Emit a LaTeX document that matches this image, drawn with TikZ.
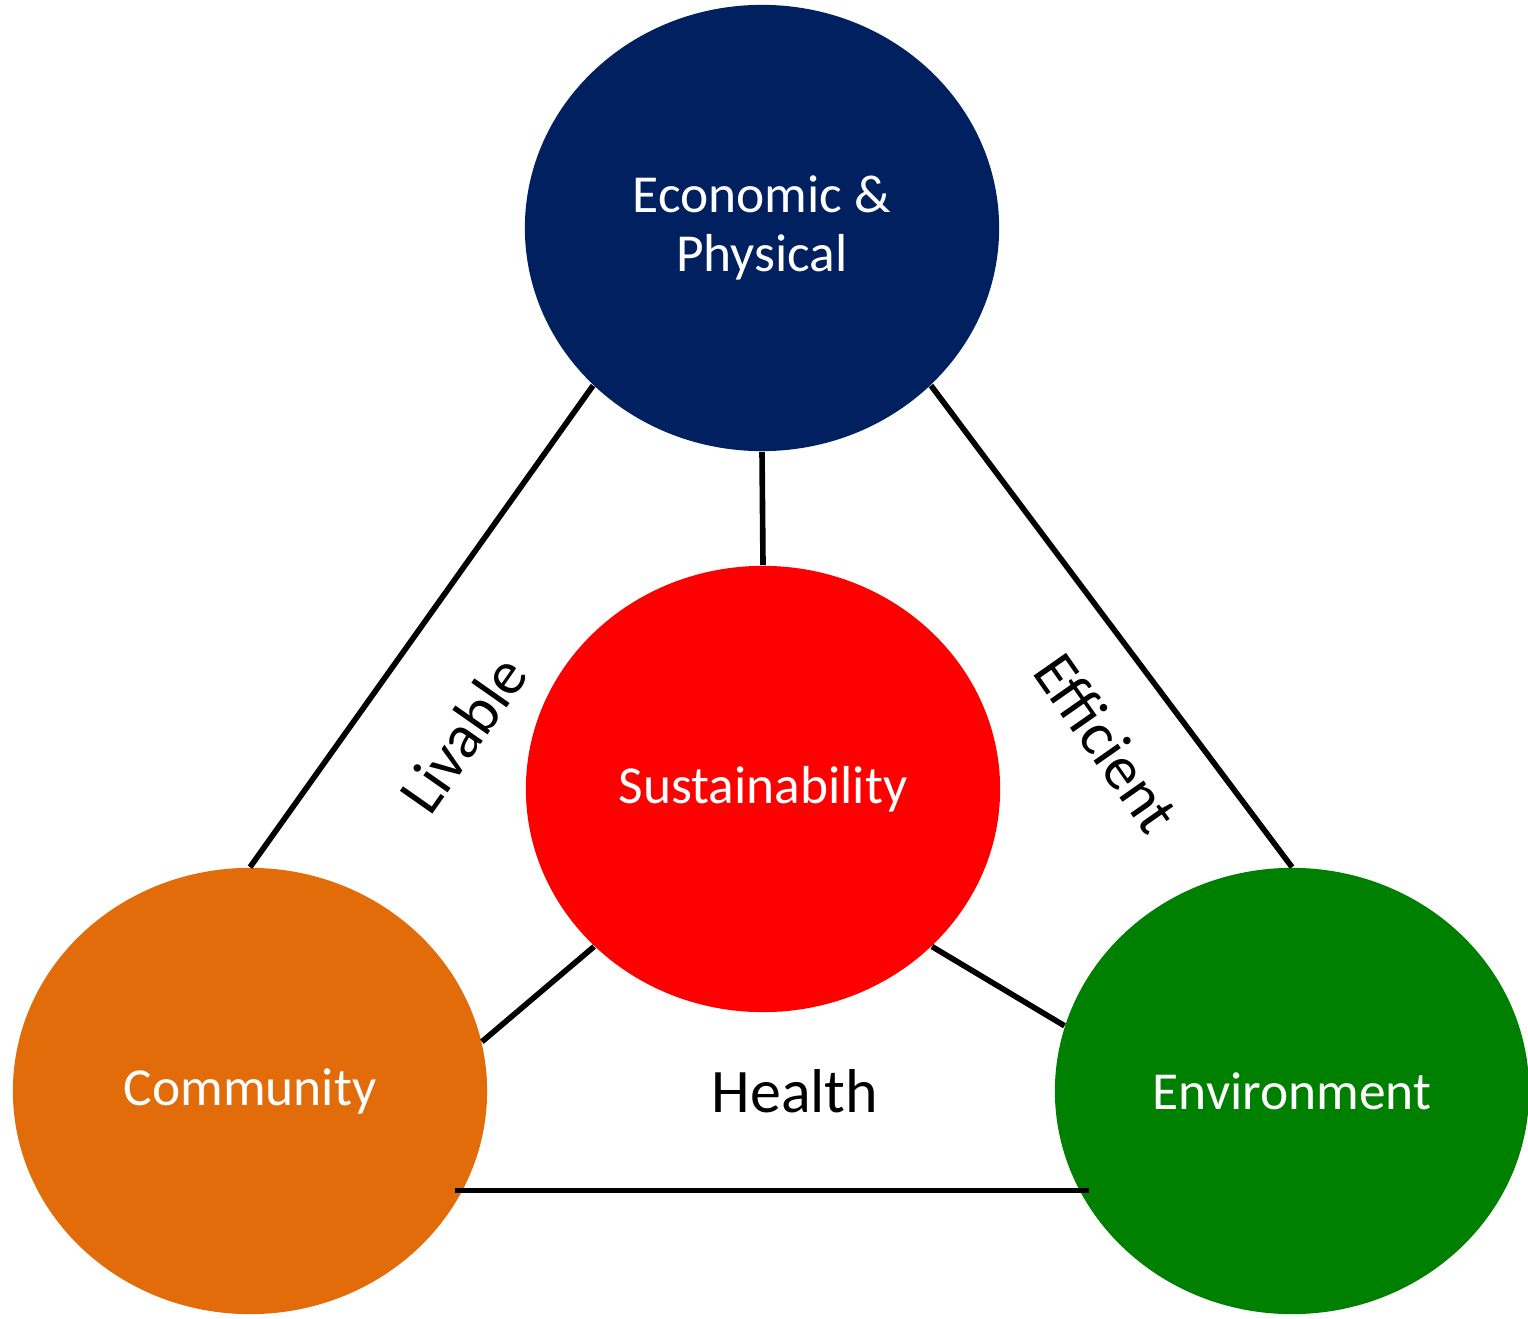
\documentclass[tikz,border=0pt]{standalone}
\usepackage{fontspec}
\setmainfont{Carlito}
\usepackage{tikz}
\usetikzlibrary{shapes.geometric}

\definecolor{econblue}{HTML}{002060}
\definecolor{susred}{HTML}{FF0000}
\definecolor{commorange}{HTML}{E36C0A}
\definecolor{envgreen}{HTML}{008000}

\tikzset{
  pillar/.style={ellipse,minimum width=4.74cm,minimum height=4.46cm,
    inner sep=0pt,text=white,align=center,font=\fontsize{15.2}{16.8}\selectfont},
  tie/.style={line width=1.6pt},
  quality/.style={font=\fontsize{17.6}{20}\selectfont}
}

\begin{document}
\begin{tikzpicture}[x=0.01cm,y=-0.01cm]
      \useasboundingbox (0,0) rectangle (1528,1319);
      \node[pillar,fill=econblue] (econ) at (762,228) {Economic \&\\Physical};
      \node[pillar,fill=susred] (sus) at (763,789) {Sustainability};
      \node[pillar,fill=commorange] (comm) at (250,1091) {Community};
      \node[pillar,fill=envgreen] (env) at (1292,1091) {Environment};
      \draw[tie] (econ.south) -- (sus.north);
      \draw[tie] (econ.223) -- (comm.north);
      \draw[tie] (econ.317) -- (env.north);
      \draw[tie] (sus.223) -- (comm.12);
      \draw[tie] (sus.317) -- (env.164);
      \draw[tie,shorten <=-2.3pt,shorten >=-2.8pt] (comm.-25) -- (env.205);
      \node[quality,rotate=55] (livable) at (463,734) {Livable};
      \node[quality,rotate=-55] (efficient) at (1107,743) {Efficient};
      \node[quality] (health) at (795,1091) {Health};
    \end{tikzpicture}
\end{document}
